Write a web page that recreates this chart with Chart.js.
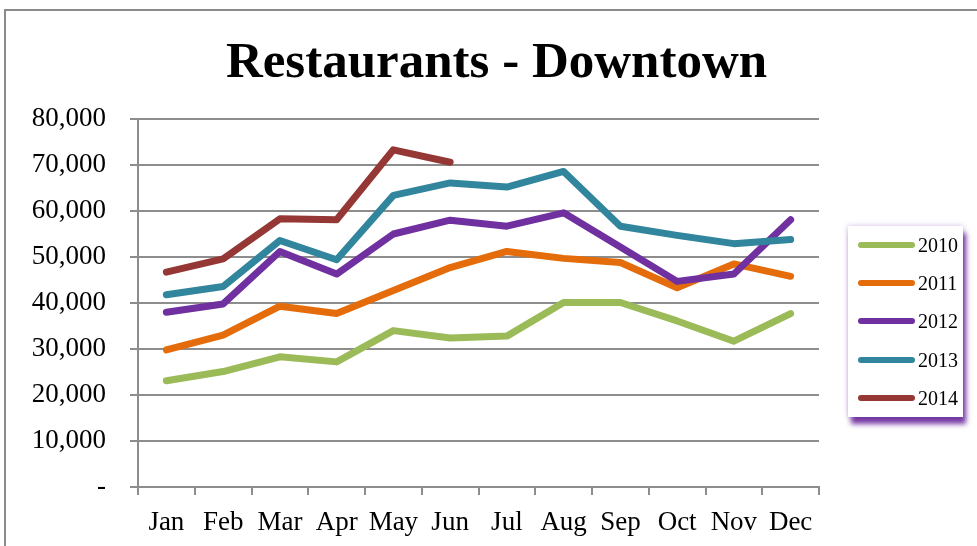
<!DOCTYPE html>
<html>
<head>
<meta charset="utf-8">
<script src="https://cdn.jsdelivr.net/npm/chart.js@4/dist/chart.umd.min.js"></script>
<style>
  html, body { margin: 0; padding: 0; background: #fff; overflow: hidden; }
  body { width: 977px; height: 546px; position: relative; font-family: "Liberation Serif", serif; }
  #frame { position: absolute; left: 4px; top: 9px; width: 1000px; height: 600px; border: 2px solid #8a8a8a; box-sizing: border-box; }
  #title { position: absolute; left: 0; width: 993px; top: 35px; line-height: 50px; text-align: center; font-size: 51px; font-weight: bold; color: #000; }
  #chart { position: absolute; left: 0; top: 0; }
  #legend { position: absolute; left: 848px; top: 226px; width: 115px; height: 191px; background: #fff;
            box-shadow: 3px 7px 5px rgba(112,48,160,0.95), 0 0 5px rgba(112,48,160,0.35); }
  .item { position: relative; height: 38.2px; }
  .item span.line { position: absolute; left: 10px; top: 16px; width: 57px; height: 6px; border-radius: 3px; }
  .item span.txt { position: absolute; left: 70px; top: 0; line-height: 38.2px; font-size: 20px; color: #000; }
</style>
</head>
<body>
<div id="frame"></div>
<div id="title">Restaurants - Downtown</div>
<canvas id="chart" width="977" height="546"></canvas>
<div id="legend"></div>
<script>
const months = ['Jan', 'Feb', 'Mar', 'Apr', 'May', 'Jun', 'Jul', 'Aug', 'Sep', 'Oct', 'Nov', 'Dec'];
const years = ['2010', '2011', '2012', '2013', '2014'];
const colors = ['#9bbb59', '#e46c0a', '#7030a0', '#31859c', '#953735'];

const sales2010 = [23100, 25100, 28300, 27200, 34000, 32400, 32800, 40100, 40100, 36100, 31700, 37700];
const sales2011 = [29800, 33000, 39300, 37700, 42700, 47700, 51200, 49700, 48800, 43300, 48500, 45800];
const sales2012 = [38000, 39800, 51200, 46300, 55000, 58000, 56700, 59600, 52200, 44700, 46300, 58100];
const sales2013 = [41800, 43600, 53600, 49400, 63400, 66100, 65200, 68600, 56700, 54700, 52900, 53800];
const sales2014 = [46700, 49600, 58300, 58100, 73300, 70600, null, null, null, null, null, null];

const yMax = 80000;
const yStep = 10000;

const series = [sales2010, sales2011, sales2012, sales2013, sales2014];
const gridColor = '#8d8d8d';
const tickFont = { family: '"Liberation Serif", serif', size: 27 };

// legend built from the same series names/colours
const legendEl = document.getElementById('legend');
years.forEach((y, i) => {
  const item = document.createElement('div');
  item.className = 'item';
  item.innerHTML = '<span class="line" style="background:' + colors[i] + '"></span><span class="txt">' + y + '</span>';
  legendEl.appendChild(item);
});

new Chart(document.getElementById('chart').getContext('2d'), {
  type: 'line',
  data: {
    labels: months,
    datasets: series.map((data, i) => ({
      label: years[i],
      data: data,
      borderColor: colors[i],
      backgroundColor: colors[i],
      borderWidth: 7,
      borderCapStyle: 'round',
      borderJoinStyle: 'round',
      pointRadius: 0,
      tension: 0,
      fill: false,
      order: series.length - i
    }))
  },
  options: {
    responsive: false,
    animation: false,
    layout: { padding: { left: 0, right: 158, top: 119, bottom: 0 } },
    plugins: {
      legend: { display: false },
      title: { display: false },
      tooltip: { enabled: false }
    },
    scales: {
      x: {
        offset: true,
        grid: { offset: true, drawOnChartArea: false, drawTicks: true, tickLength: 8, tickColor: gridColor, lineWidth: 2 },
        border: { color: gridColor, width: 2 },
        ticks: { color: '#000', font: tickFont, padding: 12, maxRotation: 0, autoSkip: false },
        afterFit: (scale) => { scale.height = 59; }
      },
      y: {
        min: 0,
        max: yMax,
        grid: { color: gridColor, lineWidth: 2, tickLength: 8, tickColor: gridColor },
        border: { color: gridColor, width: 2 },
        ticks: {
          stepSize: yStep,
          color: '#000',
          font: tickFont,
          padding: 24,
          callback: (v) => v === 0 ? '-' : v.toLocaleString('en-US')
        },
        afterFit: (scale) => { scale.width = 138; }
      }
    }
  }
});
</script>
</body>
</html>
